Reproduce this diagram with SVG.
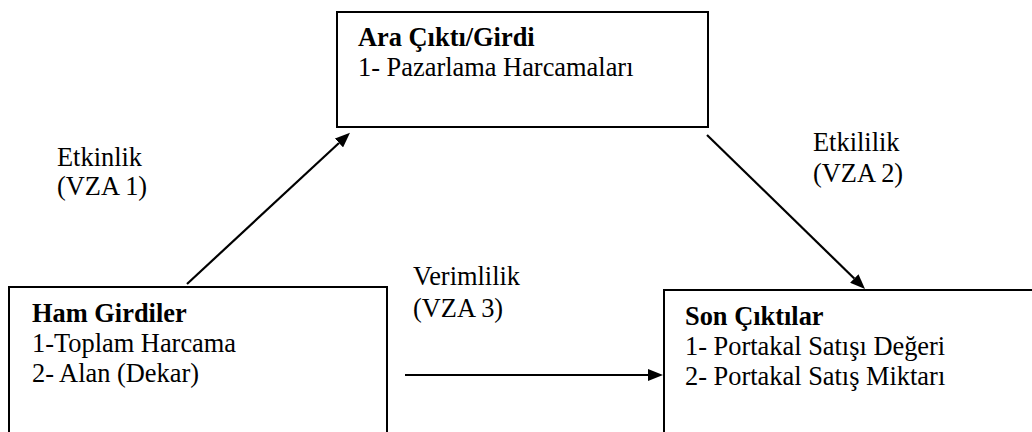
<svg xmlns="http://www.w3.org/2000/svg" width="1032" height="432" viewBox="0 0 1032 432">
  <style>
    .box { fill: #ffffff; stroke: #000000; stroke-width: 2; }
    .conn { stroke: #000000; stroke-width: 2.2; fill: none; marker-end: url(#arrow); }
    .t { font-family: 'Liberation Serif', serif; font-size: 26.4px; fill: #000000; }
    .b { font-weight: bold; }
  </style>
  <defs>
    <marker id="arrow" markerUnits="userSpaceOnUse" viewBox="0 0 15 12" markerWidth="15" markerHeight="12" refX="0" refY="6" orient="auto">
      <path d="M0,0 L15,6 L0,12 z" fill="#000000"/>
    </marker>
  </defs>
  <rect width="1032" height="432" fill="#ffffff"/>

  <g id="node-ara">
    <rect class="box" x="337" y="12" width="371" height="115"/>
    <text class="t b" x="358" y="46">Ara Çıktı/Girdi</text>
    <text class="t" x="358" y="76">1- Pazarlama Harcamaları</text>
  </g>

  <g id="node-ham">
    <rect class="box" x="9" y="287" width="378" height="170"/>
    <text class="t b" x="32" y="322">Ham Girdiler</text>
    <text class="t" x="32" y="352">1-Toplam Harcama</text>
    <text class="t" x="32" y="382">2- Alan (Dekar)</text>
  </g>

  <g id="node-son">
    <rect class="box" x="664" y="290" width="400" height="170"/>
    <text class="t b" x="685" y="325">Son Çıktılar</text>
    <text class="t" x="685" y="355">1- Portakal Satışı Değeri</text>
    <text class="t" x="685" y="385">2- Portakal Satış Miktarı</text>
  </g>

  <g id="connectors">
    <line class="conn" x1="187" y1="284" x2="339" y2="143"/>
    <line class="conn" x1="707" y1="135" x2="854.3" y2="278.5"/>
    <line class="conn" x1="405" y1="375" x2="648" y2="375"/>
  </g>

  <g id="labels">
    <text class="t" x="57" y="166">Etkinlik</text>
    <text class="t" x="57" y="195">(VZA 1)</text>
    <text class="t" x="813" y="151">Etkililik</text>
    <text class="t" x="813" y="182">(VZA 2)</text>
    <text class="t" x="413" y="285">Verimlilik</text>
    <text class="t" x="413" y="317">(VZA 3)</text>
  </g>
</svg>
